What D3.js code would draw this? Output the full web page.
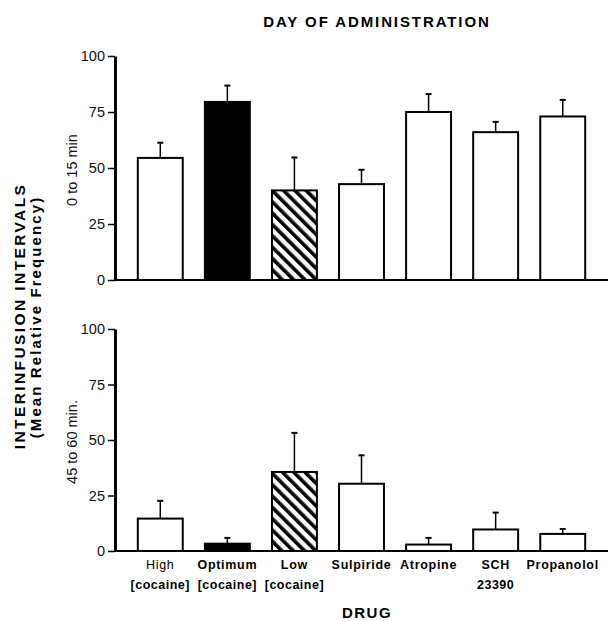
<!DOCTYPE html>
<html>
<head>
<meta charset="utf-8">
<script src="https://cdn.jsdelivr.net/npm/d3@7"></script>
<style>
  body { margin: 0; background: #fff; }
  svg { font-family: "Liberation Sans", Arial, sans-serif; }
</style>
</head>
<body>
<div id="chart"></div>
<script>
const width = 613;
const height = 621;

// data
const drugs = ["High", "Optimum", "Low", "Sulpiride", "Atropine", "SCH", "Propanolol"];
const drugSub = ["[cocaine]", "[cocaine]", "[cocaine]", "", "", "23390", ""];
const barFill = ["open", "solid", "hatch", "open", "open", "open", "open"];
const early = [54.5, 79.5, 40, 42.8, 75, 66, 73];
const earlySem = [6.8, 7.3, 14.7, 6.4, 8, 4.6, 7.4];
const late = [14.6, 3.3, 35.6, 30.3, 2.9, 9.7, 7.7];
const lateSem = [8, 2.6, 17.6, 12.8, 3, 7.6, 2.2];
const yTicks = [0, 25, 50, 75, 100];

const marginLeft = 115;
const marginRight = 5;

const svg = d3.select("#chart").append("svg")
    .attr("width", width)
    .attr("height", height);

svg.append("defs").append("pattern")
    .attr("id", "hatch")
    .attr("patternUnits", "userSpaceOnUse")
    .attr("width", 8)
    .attr("height", 8)
    .attr("patternTransform", "rotate(-45)")
    .call(p => p.append("rect").attr("width", 8).attr("height", 8).attr("fill", "white"))
    .append("rect")
    .attr("x", 0)
    .attr("width", 3.6)
    .attr("height", 8)
    .attr("fill", "black");

const x = d3.scaleBand()
    .domain(drugs)
    .range([marginLeft, width - marginRight])
    .paddingInner(0.33)
    .paddingOuter(0.34);

function fillOf(i) {
    if (barFill[i] === "solid") return "black";
    if (barFill[i] === "hatch") return "url(#hatch)";
    return "white";
}

function panel(values, sem, top, bottom, label) {
    const y = d3.scaleLinear().domain([0, 100]).range([bottom, top]);
    const g = svg.append("g");

    // error bars (drawn before the bars so the stem starts at the bar top)
    g.selectAll(".err")
        .data(values)
        .join("line")
        .attr("x1", (d, i) => x(drugs[i]) + x.bandwidth() / 2)
        .attr("x2", (d, i) => x(drugs[i]) + x.bandwidth() / 2)
        .attr("y1", d => y(d))
        .attr("y2", (d, i) => y(d + sem[i]))
        .attr("stroke", "black")
        .attr("stroke-width", 1.5);

    g.selectAll(".cap")
        .data(values)
        .join("line")
        .attr("x1", (d, i) => x(drugs[i]) + x.bandwidth() / 2 - 3)
        .attr("x2", (d, i) => x(drugs[i]) + x.bandwidth() / 2 + 3)
        .attr("y1", (d, i) => y(d + sem[i]))
        .attr("y2", (d, i) => y(d + sem[i]))
        .attr("stroke", "black")
        .attr("stroke-width", 2);

    g.selectAll(".bar")
        .data(values)
        .join("rect")
        .attr("x", (d, i) => x(drugs[i]))
        .attr("width", x.bandwidth())
        .attr("y", d => y(d))
        .attr("height", d => bottom - y(d))
        .attr("fill", (d, i) => fillOf(i))
        .attr("stroke", "black")
        .attr("stroke-width", 2);

    // x baseline
    g.append("line")
        .attr("x1", marginLeft)
        .attr("x2", width - marginRight)
        .attr("y1", bottom)
        .attr("y2", bottom)
        .attr("stroke", "black")
        .attr("stroke-width", 2);

    const yAxis = g.append("g")
        .attr("transform", `translate(${marginLeft},0)`)
        .call(d3.axisLeft(y).tickValues(yTicks).tickSize(7).tickPadding(3).tickSizeOuter(0));
    yAxis.select(".domain").attr("stroke-width", 3);
    yAxis.selectAll(".tick line").attr("stroke-width", 1.5);
    yAxis.selectAll(".tick text")
        .attr("font-size", 14.5)
        .attr("font-family", "Liberation Sans, Arial, sans-serif")
        .attr("fill", "#111");

    g.append("text")
        .attr("transform", `translate(77,${(top + bottom) / 2 + 2}) rotate(-90)`)
        .attr("text-anchor", "middle")
        .attr("font-size", 14.5)
        .attr("fill", "#111")
        .text(label);

    return y;
}

panel(early, earlySem, 56, 280, "0 to 15 min");
panel(late, lateSem, 329, 551, "45 to 60 min.");

// category labels
svg.append("g").selectAll("text")
    .data(drugs)
    .join("text")
    .attr("x", d => x(d) + x.bandwidth() / 2)
    .attr("y", 569)
    .attr("text-anchor", "middle")
    .attr("font-size", 12.5)
    .attr("font-weight", (d, i) => i === 0 ? "normal" : "bold")
    .attr("letter-spacing", 0.7)
    .text(d => d);

svg.append("g").selectAll("text")
    .data(drugSub)
    .join("text")
    .attr("x", (d, i) => x(drugs[i]) + x.bandwidth() / 2)
    .attr("y", 589)
    .attr("text-anchor", "middle")
    .attr("font-size", 12.5)
    .attr("font-weight", "bold")
    .attr("letter-spacing", 0.5)
    .text(d => d);

svg.append("text")
    .attr("x", 367)
    .attr("y", 618)
    .attr("text-anchor", "middle")
    .attr("font-size", 15)
    .attr("font-weight", "bold")
    .attr("letter-spacing", 1.5)
    .text("DRUG");

svg.append("text")
    .attr("x", 377)
    .attr("y", 27)
    .attr("text-anchor", "middle")
    .attr("font-size", 15)
    .attr("font-weight", "bold")
    .attr("letter-spacing", 1.9)
    .text("DAY OF ADMINISTRATION");

svg.append("text")
    .attr("transform", "translate(25,316) rotate(-90)")
    .attr("text-anchor", "middle")
    .attr("font-size", 15.5)
    .attr("font-weight", "bold")
    .attr("letter-spacing", 2.4)
    .text("INTERINFUSION INTERVALS");

svg.append("text")
    .attr("transform", "translate(41,317) rotate(-90)")
    .attr("text-anchor", "middle")
    .attr("font-size", 15)
    .attr("font-weight", "bold")
    .attr("letter-spacing", 2.1)
    .text("(Mean Relative Frequency)");
</script>
</body>
</html>
